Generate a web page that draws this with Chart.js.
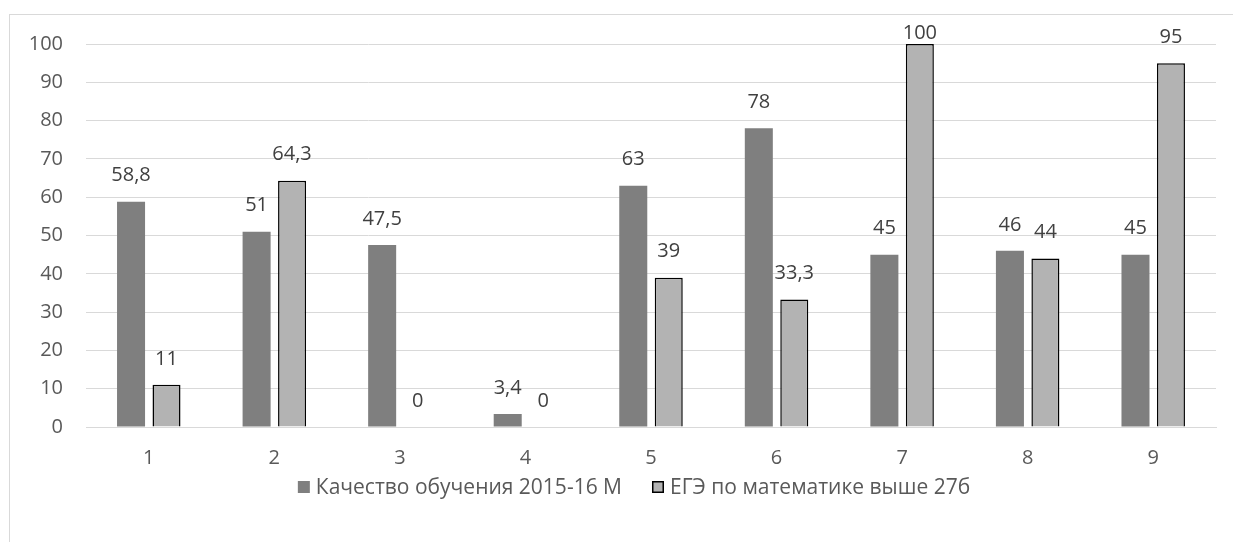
<!DOCTYPE html>
<html>
<head>
<meta charset="utf-8">
<script src="https://cdn.jsdelivr.net/npm/chart.js@4/dist/chart.umd.min.js"></script>
<style>
  html, body { margin: 0; padding: 0; background: #fff; }
  #wrap { width: 1233px; height: 542px; position: relative; }
</style>
</head>
<body>
<div id="wrap"><canvas id="chart" width="1233" height="542"></canvas></div>
<script>
// data
const categories = ['1', '2', '3', '4', '5', '6', '7', '8', '9'];
const quality = [58.8, 51, 47.5, 3.4, 63, 78, 45, 46, 45];
const exam = [11, 64.3, 0, 0, 39, 33.3, 100, 44, 95];
const seriesNames = ['Качество обучения 2015-16 М', 'ЕГЭ по математике выше 27б'];
const yTicks = [0, 10, 20, 30, 40, 50, 60, 70, 80, 90, 100];

const textColor = '#595959';
const gridColor = '#d9d9d9';
const fontFamily = '"Open Sans", sans-serif';

// outer frame, value labels and the legend are drawn by hand, Excel style
const excelDecor = {
    id: 'excelDecor',
    beforeDraw(chart) {
        const ctx = chart.ctx;
        ctx.save();
        ctx.strokeStyle = gridColor;
        ctx.lineWidth = 1;
        ctx.strokeRect(9.5, 14.5, 1300, 600);
        ctx.restore();
    },
    afterDatasetsDraw(chart) {
        const ctx = chart.ctx;
        const top = chart.chartArea.top;
        ctx.save();
        ctx.font = '20px ' + fontFamily;
        ctx.fillStyle = '#404040';
        ctx.textAlign = 'center';
        ctx.textBaseline = 'middle';
        chart.data.datasets.forEach((ds, i) => {
            chart.getDatasetMeta(i).data.forEach((bar, j) => {
                const txt = String(ds.data[j]).replace('.', ',');
                let y = bar.y - 26;
                if (y < top - 11) y = top - 11;
                ctx.fillText(txt, bar.x, y);
            });
        });

        // legend
        ctx.font = '21px ' + fontFamily;
        ctx.textAlign = 'left';
        ctx.fillStyle = textColor;
        const box = 12, gapBox = 6, gapItem = 30;
        const widths = seriesNames.map(n => ctx.measureText(n).width);
        const total = widths.reduce((a, w) => a + box + gapBox + w, 0) + gapItem;
        let x = 634 - total / 2;
        const y = 487;
        chart.data.datasets.forEach((ds, i) => {
            ctx.fillStyle = ds.backgroundColor;
            ctx.fillRect(x, y - box / 2, box, box);
            if (ds.borderWidth) {
                ctx.strokeStyle = '#000';
                ctx.lineWidth = 1.5;
                ctx.strokeRect(x + 0.75, y - box / 2 + 0.75, box - 1.5, box - 1.5);
            }
            ctx.fillStyle = textColor;
            ctx.fillText(seriesNames[i], x + box + gapBox, y + 1);
            x += box + gapBox + widths[i] + gapItem;
        });
        ctx.restore();
    }
};

new Chart(document.getElementById('chart').getContext('2d'), {
    type: 'bar',
    data: {
        labels: categories,
        datasets: [{
            label: seriesNames[0],
            data: quality,
            backgroundColor: '#7f7f7f',
            borderWidth: 0,
            categoryPercentage: 0.565,
            barPercentage: 0.79
        }, {
            label: seriesNames[1],
            data: exam,
            backgroundColor: '#b3b3b3',
            borderColor: '#000000',
            borderWidth: 1.5,
            categoryPercentage: 0.565,
            barPercentage: 0.79
        }]
    },
    options: {
        responsive: false,
        animation: false,
        layout: { padding: { left: 0, top: 44, right: 17, bottom: 0 } },
        plugins: { legend: { display: false }, tooltip: { enabled: false } },
        scales: {
            x: {
                grid: { display: false, drawTicks: false },
                border: { color: gridColor },
                ticks: { color: textColor, font: { family: fontFamily, size: 20 }, padding: 19 },
                afterFit(scale) { scale.height = 115; }
            },
            y: {
                min: 0,
                max: 100,
                afterBuildTicks(scale) { scale.ticks = yTicks.map(v => ({ value: v })); },
                grid: { color: gridColor, drawTicks: false },
                border: { display: false },
                ticks: { color: textColor, font: { family: fontFamily, size: 20 }, padding: 23 },
                afterFit(scale) { scale.width = 86; }
            }
        }
    },
    plugins: [excelDecor]
});
</script>
</body>
</html>
